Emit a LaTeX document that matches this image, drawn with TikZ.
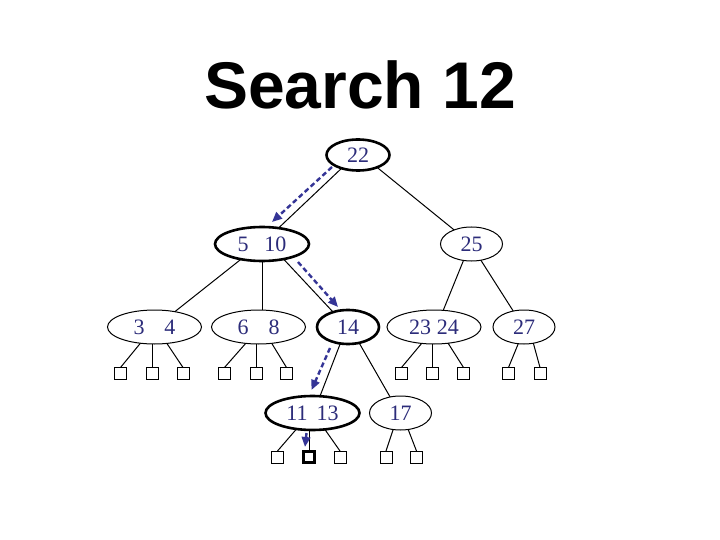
\documentclass[tikz,border=0pt]{standalone}
\usepackage{fontspec}
\setmainfont{Liberation Serif}
\newfontfamily\titlefont{Liberation Sans}
\usetikzlibrary{shapes.geometric,arrows.meta,calc}
\definecolor{navy}{RGB}{44,44,122}
\definecolor{pathblue}{RGB}{52,52,150}
\begin{document}
\begin{tikzpicture}[x=1pt,y=-1pt,
  key/.style={ellipse,draw,line width=1pt,inner sep=0pt,outer sep=0pt,minimum height=34pt,text=navy,font=\fontsize{22}{26}\selectfont},
  onekey/.style={key,minimum width=62pt},
  twokey/.style={key,minimum width=94pt},
  visited/.style={line width=2.6pt},
  leaf/.style={draw,line width=0.9pt,minimum size=12pt,inner sep=0pt,outer sep=0pt},
  edge/.style={line width=1pt},
  search/.style={draw=pathblue,line width=2.4pt,dash pattern=on 5pt off 3pt,-{Triangle[length=10pt,width=8.5pt]}}
]
\fill[white] (0,0) rectangle (720,540);
\useasboundingbox (0,0) rectangle (720,540);

\node[font=\titlefont\bfseries\fontsize{66}{70}\selectfont,anchor=base] (title) at (360,109) {Search 12};

\node[onekey,visited,minimum width=63pt,minimum height=31pt] (n22) at (358,155) {22};
\node[twokey,visited] (n510) at (262,244) {5\hspace{16pt}10};
\node[onekey] (n25) at (471.5,244) {25};
\node[twokey] (n34) at (154.5,327) {3\hspace{20pt}4};
\node[twokey] (n68) at (258.5,327) {6\hspace{20pt}8};
\node[onekey,visited] (n14) at (348,327) {14};
\node[twokey] (n2324) at (434,327) {23\hspace{6pt}24};
\node[onekey] (n27) at (524,327) {27};
\node[twokey,visited] (n1113) at (312.5,413) {11\hspace{9pt}13};
\node[onekey] (n17) at (400.5,413) {17};

\foreach \x [count=\i] in {120.5,152,183,224.5,256,286.5,401.5,432.5,463.5,508.5,540}
  \node[leaf] (l\i) at (\x,373.5) {};
\node[leaf] (m1) at (277.5,457) {};
\node[leaf,line width=2.4pt,minimum size=11pt] (m2) at (309,457) {};
\node[leaf] (m3) at (340,457) {};
\node[leaf] (m4) at (386,457) {};
\node[leaf] (m5) at (416.5,457) {};

\draw[edge] (n22.-141) -- (n510.44);
\draw[edge] (n22.-33) -- (n25.141);
\draw[edge] (n510.-144) -- (n34.37);
\draw[edge] (n510.south) -- (n510.south |- n68.north);
\draw[edge] (n510.-35) -- (n14.135);
\draw[edge] (n25.-116) -- (n2324.61);
\draw[edge] (n25.-60) -- (n27.124);
\draw[edge] (n14.-115) -- (n1113.66);
\draw[edge] (n14.-55) -- (n17.123);

\draw[edge] (n34.-131) -- (l1.north);
\draw[edge] (l2.north) -- (l2.north |- n34.south);
\draw[edge] (n34.-53) -- (l3.north);
\draw[edge] (n68.-128) -- (l4.north);
\draw[edge] (l5.north) -- (l5.north |- n68.south);
\draw[edge] (n68.-51) -- (l6.north);
\draw[edge] (n2324.-127) -- (l7.north);
\draw[edge] (l8.north) -- (l8.north |- n2324.south);
\draw[edge] (n2324.-49) -- (l9.north);
\draw[edge] (n27.-109) -- (l10.north);
\draw[edge] (n27.-60) -- (l11.north);
\draw[edge] (n1113.-135) -- (m1.north);
\draw[edge] (m2.north) -- (m2.north |- n1113.south);
\draw[edge] (n1113.-53) -- (m3.north);
\draw[edge] (n17.-114) -- (m4.north);
\draw[edge] (n17.-65) -- (m5.north);

\draw[search] ($(n22.center)+(-26,12)$) -- ($(n510.center)+(10,-22)$);
\draw[search] ($(n510.center)+(36,18)$) -- ($(n14.center)+(-10,-20)$);
\draw[search] ($(n14.center)+(-18,21)$) -- ($(n1113.center)+(-1,-23)$);
\draw[search] ($(n1113.center)+(-6,20)$) -- ($(m2.center)+(-4,-10)$);
\end{tikzpicture}
\end{document}
